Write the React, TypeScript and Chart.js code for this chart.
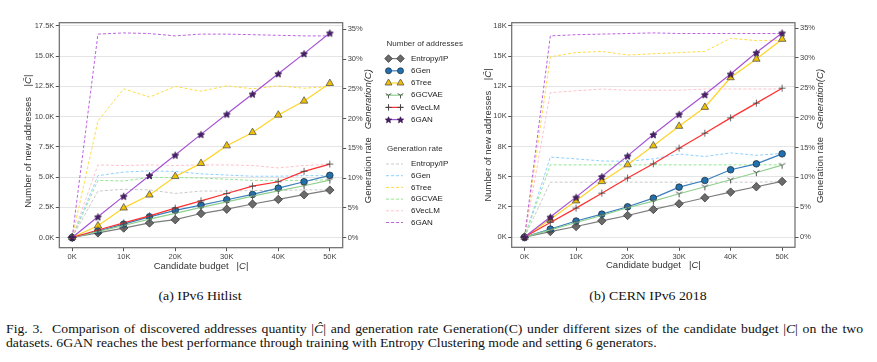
import React, { useEffect, useRef } from "react";
import { Chart, registerables } from "chart.js";
Chart.register(...registerables);

// ---------------- DATA ----------------
const budget = [0, 5000, 10000, 15000, 20000, 25000, 30000, 35000, 40000, 45000, 50000];
const methods = ["Entropy/IP", "6Gen", "6Tree", "6GCVAE", "6VecLM", "6GAN"];

// (a) IPv6 Hitlist — number of new addresses |C^|
const hitEntropyIP = [0, 380, 780, 1200, 1470, 1980, 2340, 2770, 3150, 3540, 3920];
const hit6Gen = [0, 530, 1100, 1710, 2240, 2680, 3120, 3560, 4080, 4610, 5140];
const hit6Tree = [0, 970, 2450, 3520, 5050, 6130, 7590, 8690, 10130, 11290, 12750];
const hit6GCVAE = [0, 480, 990, 1520, 1990, 2490, 2950, 3420, 3860, 4280, 4750];
const hit6VecLM = [0, 620, 1210, 1790, 2430, 3030, 3640, 4250, 4610, 5470, 6070];
const hit6GAN = [0, 1710, 3420, 5130, 6820, 8530, 10210, 11870, 13550, 15210, 16920];
// (a) IPv6 Hitlist — generation rate (%)
const hitRateEntropyIP = [0, 7.8, 8.1, 8.0, 7.4, 7.8, 7.8, 7.9, 7.9, 8.0, 8.0];
const hitRate6Gen = [0, 10.4, 11.0, 11.2, 11.1, 10.7, 10.5, 10.3, 10.3, 10.4, 10.4];
const hitRate6Tree = [0, 19.6, 25.0, 23.6, 25.4, 24.6, 25.5, 25.0, 25.5, 25.1, 25.4];
const hitRate6GCVAE = [0, 9.6, 9.5, 10.1, 10.1, 10.0, 9.8, 9.6, 9.6, 9.6, 9.7];
const hitRate6VecLM = [0, 12.2, 12.1, 12.2, 12.1, 12.2, 12.2, 12.1, 11.7, 12.1, 12.3];
const hitRate6GAN = [0, 34.2, 34.4, 34.3, 33.9, 34.2, 34.2, 34.1, 34.0, 33.9, 33.9];

// (b) CERN IPv6 2018 — number of new addresses
const cernEntropyIP = [0, 460, 880, 1350, 1790, 2290, 2760, 3260, 3730, 4170, 4610];
const cern6Gen = [0, 660, 1330, 1900, 2510, 3230, 4140, 4690, 5580, 6070, 6900];
const cern6Tree = [0, 1480, 3010, 4610, 6000, 7570, 9190, 10760, 13220, 14750, 16400];
const cern6GCVAE = [0, 600, 1210, 1790, 2430, 2980, 3590, 4170, 4750, 5350, 5960];
const cern6VecLM = [0, 1210, 2400, 3640, 4890, 6070, 7370, 8610, 9880, 11100, 12340];
const cern6GAN = [0, 1660, 3310, 5020, 6730, 8500, 10180, 11810, 13520, 15290, 16920];
// (b) CERN IPv6 2018 — generation rate (%)
const cernRateEntropyIP = [0, 9.2, 9.2, 9.2, 9.2, 9.2, 9.2, 9.2, 9.2, 9.2, 9.3];
const cernRate6Gen = [0, 13.4, 13.1, 12.75, 12.7, 13.1, 13.9, 13.5, 14.1, 13.7, 14.0];
const cernRate6Tree = [0, 30.2, 30.9, 31.1, 30.5, 30.7, 30.9, 31.1, 33.3, 32.9, 33.0];
const cernRate6GCVAE = [0, 12.1, 12.1, 12.1, 12.1, 12.1, 12.1, 12.1, 12.1, 12.1, 12.1];
const cernRate6VecLM = [0, 24.2, 24.5, 24.8, 24.6, 24.6, 24.6, 24.8, 24.8, 24.8, 24.8];
const cernRate6GAN = [0, 33.7, 33.9, 34.0, 34.1, 34.2, 34.1, 34.1, 34.1, 34.1, 34.1];

// ticks
const xTickValues = [0, 10000, 20000, 30000, 40000, 50000];
const xTickLabels = ["0K", "10K", "20K", "30K", "40K", "50K"];
const countTickValues = [0, 2500, 5000, 7500, 10000, 12500, 15000, 17500];
const hitCountLabels = ["0.0K", "2.5K", "5.0K", "7.5K", "10.0K", "12.5K", "15.0K", "17.5K"];
const cernCountLabels = ["0K", "2K", "5K", "8K", "10K", "12K", "15K", "18K"];
const rateTickValues = [0, 5, 10, 15, 20, 25, 30, 35];
const rateTickLabels = ["0%", "5%", "10%", "15%", "20%", "25%", "30%", "35%"];

// ---------------- STYLES ----------------
const FONT = "'Liberation Sans', Arial, sans-serif";
const solidStyles = [
  { line: "#7d7d7d", fill: "#6b6b6b", edge: "#3a3a3a", marker: "diamond" },
  { line: "#3b7fbd", fill: "#2170b0", edge: "#263238", marker: "circle" },
  { line: "#ffd427", fill: "#f0c000", edge: "#555555", marker: "triangle" },
  { line: "#8fcf8f", fill: "#555555", edge: "#555555", marker: "tri" },
  { line: "#ff2f2f", fill: "#444444", edge: "#444444", marker: "plus" },
  { line: "#a553d6", fill: "#4d1f72", edge: "#2a1040", marker: "star" },
];
const dashColors = ["#c9c9c9", "#8fd0ff", "#ffdc45", "#93e693", "#ffc2cc", "#bd62e0"];

function makeStar(r: number, fill: string, stroke: string) {
  const s = Math.ceil(r * 2 + 3);
  const c = document.createElement("canvas");
  c.width = s; c.height = s;
  const ctx = c.getContext("2d")!;
  ctx.beginPath();
  for (let i = 0; i < 10; i++) {
    const rad = i % 2 === 0 ? r : r * 0.45;
    const a = -Math.PI / 2 + (i * Math.PI) / 5;
    const px = s / 2 + rad * Math.cos(a);
    const py = s / 2 + 0.5 + rad * Math.sin(a);
    if (i) ctx.lineTo(px, py); else ctx.moveTo(px, py);
  }
  ctx.closePath();
  ctx.fillStyle = fill; ctx.fill();
  ctx.strokeStyle = stroke; ctx.lineWidth = 0.8; ctx.stroke();
  return c;
}
function makeTri(r: number, color: string) {
  const s = Math.ceil(r * 2 + 3);
  const c = document.createElement("canvas");
  c.width = s; c.height = s;
  const ctx = c.getContext("2d")!;
  const cx = s / 2, cy = s / 2;
  ctx.strokeStyle = color; ctx.lineWidth = 1;
  ctx.beginPath();
  ctx.moveTo(cx, cy); ctx.lineTo(cx, cy + r);
  ctx.moveTo(cx, cy); ctx.lineTo(cx + 0.866 * r, cy - 0.5 * r);
  ctx.moveTo(cx, cy); ctx.lineTo(cx - 0.866 * r, cy - 0.5 * r);
  ctx.stroke();
  return c;
}

function pointFor(st: any) {
  switch (st.marker) {
    case "diamond": return { pointStyle: "rectRot", pointRadius: 4.2 };
    case "circle": return { pointStyle: "circle", pointRadius: 3.3 };
    case "triangle": return { pointStyle: "triangle", pointRadius: 4.3 };
    case "plus": return { pointStyle: "cross", pointRadius: 3.5 };
    case "tri": return { pointStyle: makeTri(3.6, st.fill), pointRadius: 4 };
    case "star": return { pointStyle: makeStar(3.6, st.fill, st.edge), pointRadius: 4 };
  }
  return {};
}

// ---------------- PLUGINS ----------------
const framePlugin = {
  id: "frame",
  afterDatasetsDraw(chart: any) {
    const { ctx, chartArea } = chart;
    const { left, top, right, bottom } = chartArea;
    ctx.save();
    ctx.strokeStyle = "#6a6a6a";
    ctx.lineWidth = 1.2;
    ctx.strokeRect(left, top, right - left, bottom - top);
    ctx.restore();
  },
};

function drawRuns(ctx: CanvasRenderingContext2D, x: number, y: number, rot: number, runs: any[], size: number) {
  ctx.save();
  ctx.translate(x, y);
  ctx.rotate(rot);
  ctx.fillStyle = "#333";
  ctx.textBaseline = "middle";
  ctx.textAlign = "left";
  let total = 0;
  const widths = runs.map((r) => {
    ctx.font = `${r.i ? "italic " : ""}${size}px ${FONT}`;
    const w = ctx.measureText(r.t).width;
    total += w;
    return w;
  });
  let cx = -total / 2;
  runs.forEach((r, k) => {
    ctx.font = `${r.i ? "italic " : ""}${size}px ${FONT}`;
    ctx.fillText(r.t, cx, 0);
    cx += widths[k];
  });
  ctx.restore();
}

const titlesPlugin = {
  id: "axisTitles",
  afterDraw(chart: any, _args: any, opts: any) {
    const { ctx, chartArea } = chart;
    const { left, top, right, bottom } = chartArea;
    const midX = (left + right) / 2;
    const midY = (top + bottom) / 2;
    drawRuns(ctx, midX, bottom + opts.bottomOff, 0,
      [{ t: "Candidate budget   |" }, { t: "C", i: true }, { t: "|" }], 9.5);
    drawRuns(ctx, left - opts.leftOff, midY + opts.leftShift, -Math.PI / 2,
      [{ t: "Number of new addresses    |" }, { t: "C\u0302", i: true }, { t: "|" }], 9.5);
    drawRuns(ctx, right + opts.rightOff, midY + 1, -Math.PI / 2,
      [{ t: "Generation rate   " }, { t: "Generation(C)", i: true }], 9.5);
  },
};

// ---------------- CHART ----------------
function buildConfig(p: any) {
  const tickFont = { family: FONT, size: 7.5 };
  const solid = p.counts.map((arr: number[], i: number) => {
    const st = solidStyles[i];
    return {
      label: methods[i],
      data: budget.map((x, k) => ({ x, y: arr[k] })),
      yAxisID: "y",
      borderColor: st.line,
      borderWidth: 1.2,
      pointBackgroundColor: st.fill,
      pointBorderColor: st.edge,
      pointBorderWidth: 0.8,
      ...pointFor(st),
      order: 6 - i,
    };
  });
  const dashed = p.rates.map((arr: number[], i: number) => ({
    label: methods[i] + " rate",
    data: budget.map((x, k) => ({ x, y: arr[k] })),
    yAxisID: "y2",
    borderColor: dashColors[i],
    borderWidth: 1,
    borderDash: [3, 2],
    pointRadius: 0,
    order: 20 - i,
  }));
  return {
    type: "line",
    data: { datasets: [...solid, ...dashed] },
    plugins: [framePlugin, titlesPlugin],
    options: {
      animation: false,
      responsive: false,
      maintainAspectRatio: false,
      layout: { padding: { top: p.padTop, left: 0, right: 0, bottom: 0 } },
      plugins: {
        legend: { display: false },
        tooltip: { enabled: false },
        axisTitles: p.titles,
      },
      scales: {
        x: {
          type: "linear",
          min: -2500,
          max: 52500,
          afterFit: (s: any) => { s.height = p.xH; },
          afterBuildTicks: (s: any) => { s.ticks = xTickValues.map((v) => ({ value: v })); },
          ticks: {
            autoSkip: false, maxRotation: 0, minRotation: 0, padding: 1.5,
            font: tickFont, color: "#444",
            callback: (v: number) => { const k = xTickValues.indexOf(v); return k >= 0 ? xTickLabels[k] : ""; },
          },
          grid: { drawOnChartArea: false, drawTicks: true, tickLength: 3.5, tickColor: "#555", tickWidth: 1 },
          border: { display: false },
        },
        y: {
          type: "linear",
          position: "left",
          min: p.yMin,
          max: p.yMax,
          afterFit: (s: any) => { s.width = p.yW; },
          afterBuildTicks: (s: any) => { s.ticks = countTickValues.map((v) => ({ value: v })); },
          ticks: {
            autoSkip: false, padding: 1.5, font: tickFont, color: "#444",
            callback: (v: number) => { const k = countTickValues.indexOf(v); return k >= 0 ? p.countLabels[k] : ""; },
          },
          grid: { color: "#e4e4e4", lineWidth: 1, drawTicks: true, tickLength: 3.5, tickColor: "#555", tickWidth: 1 },
          border: { display: false },
        },
        y2: {
          type: "linear",
          position: "right",
          min: p.rMin,
          max: p.rMax,
          afterFit: (s: any) => { s.width = p.y2W; },
          afterBuildTicks: (s: any) => { s.ticks = rateTickValues.map((v) => ({ value: v })); },
          ticks: {
            autoSkip: false, padding: 1.5, font: tickFont, color: "#444",
            callback: (v: number) => { const k = rateTickValues.indexOf(v); return k >= 0 ? rateTickLabels[k] : ""; },
          },
          grid: { drawOnChartArea: false, drawTicks: true, tickLength: 3.5, tickColor: "#555", tickWidth: 1 },
          border: { display: false },
        },
      },
    },
  };
}

function LineChart({ p }: { p: any }) {
  const ref = useRef<HTMLCanvasElement | null>(null);
  useEffect(() => {
    const chart = new Chart(ref.current as any, buildConfig(p) as any);
    return () => chart.destroy();
  }, []);
  return (
    <canvas
      ref={ref}
      width={p.w}
      height={280}
      style={{ position: "absolute", left: p.left, top: 0, width: p.w, height: 280 }}
    />
  );
}

// ---------------- LEGEND ----------------
function Marker({ kind, cx, cy, st }: any) {
  if (kind === "diamond") {
    const r = 3.8;
    return <polygon points={`${cx - r},${cy} ${cx},${cy - r} ${cx + r},${cy} ${cx},${cy + r}`} fill={st.fill} stroke={st.edge} strokeWidth={0.8} />;
  }
  if (kind === "circle") return <circle cx={cx} cy={cy} r={3} fill={st.fill} stroke={st.edge} strokeWidth={0.8} />;
  if (kind === "triangle") {
    const r = 4;
    return <polygon points={`${cx},${cy - r} ${cx + 0.866 * r},${cy + 0.5 * r} ${cx - 0.866 * r},${cy + 0.5 * r}`} fill={st.fill} stroke={st.edge} strokeWidth={0.8} />;
  }
  if (kind === "plus") {
    const r = 3.2;
    return <path d={`M${cx - r},${cy}H${cx + r}M${cx},${cy - r}V${cy + r}`} stroke={st.edge} strokeWidth={1} />;
  }
  if (kind === "tri") {
    const r = 3.2;
    return <path d={`M${cx},${cy}V${cy + r}M${cx},${cy}L${cx + 0.866 * r},${cy - 0.5 * r}M${cx},${cy}L${cx - 0.866 * r},${cy - 0.5 * r}`} stroke={st.fill} strokeWidth={1} fill="none" />;
  }
  // star
  const pts: string[] = [];
  for (let i = 0; i < 10; i++) {
    const rad = i % 2 === 0 ? 3.3 : 3.3 * 0.45;
    const a = -Math.PI / 2 + (i * Math.PI) / 5;
    pts.push(`${cx + rad * Math.cos(a)},${cy + 0.5 + rad * Math.sin(a)}`);
  }
  return <polygon points={pts.join(" ")} fill={st.fill} stroke={st.edge} strokeWidth={0.7} />;
}

function Legend() {
  const tStyle: any = { fontFamily: FONT, fontSize: 8, fill: "#222" };
  return (
    <svg width={877} height={280} style={{ position: "absolute", left: 0, top: 0, pointerEvents: "none" }}>
      <text x={386.5} y={44} dominantBaseline="middle" style={{ ...tStyle, fill: "#333" }}>Number of addresses</text>
      {methods.map((m, i) => {
        const y = 58.6 + i * 12.2;
        const st = solidStyles[i];
        return (
          <g key={"s" + m}>
            <line x1={386} x2={403} y1={y} y2={y} stroke={st.line} strokeWidth={1.2} />
            <Marker kind={st.marker} cx={388.5} cy={y} st={st} />
            <Marker kind={st.marker} cx={400.5} cy={y} st={st} />
            <text x={411} y={y} dominantBaseline="middle" style={tStyle}>{m}</text>
          </g>
        );
      })}
      <text x={387} y={149} dominantBaseline="middle" style={{ ...tStyle, fill: "#333" }}>Generation rate</text>
      {methods.map((m, i) => {
        const y = 164 + i * 11.7;
        return (
          <g key={"d" + m}>
            <line x1={386} x2={403} y1={y} y2={y} stroke={dashColors[i]} strokeWidth={1} strokeDasharray="3,2" />
            <text x={411} y={y} dominantBaseline="middle" style={tStyle}>{m}</text>
          </g>
        );
      })}
    </svg>
  );
}

// ---------------- APP ----------------
const hitParams = {
  left: 0, w: 385, padTop: 22.7, xH: 32.3, yW: 59.3, y2W: 42.3,
  yMin: -846, yMax: 17766, rMin: -1.72, rMax: 36.12,
  countLabels: hitCountLabels,
  counts: [hitEntropyIP, hit6Gen, hit6Tree, hit6GCVAE, hit6VecLM, hit6GAN],
  rates: [hitRateEntropyIP, hitRate6Gen, hitRate6Tree, hitRate6GCVAE, hitRate6VecLM, hitRate6GAN],
  titles: { bottomOff: 18.3, leftOff: 31, leftShift: 6, rightOff: 26 },
};
const cernParams = {
  left: 460, w: 400, padTop: 22.7, xH: 32.7, yW: 51.7, y2W: 65,
  yMin: -846, yMax: 17766, rMin: -1.71, rMax: 35.91,
  countLabels: cernCountLabels,
  counts: [cernEntropyIP, cern6Gen, cern6Tree, cern6GCVAE, cern6VecLM, cern6GAN],
  rates: [cernRateEntropyIP, cernRate6Gen, cernRate6Tree, cernRate6GCVAE, cernRate6VecLM, cernRate6GAN],
  titles: { bottomOff: 18.3, leftOff: 23.4, leftShift: 0, rightOff: 25.7 },
};

export default function App() {
  const serif = "'Liberation Serif', 'Times New Roman', serif";
  const sx = 1.057;
  return (
    <div style={{ position: "absolute", left: 0, top: 0, width: 877, height: 362, background: "#fff", overflow: "hidden" }}>
      <LineChart p={hitParams} />
      <LineChart p={cernParams} />
      <Legend />
      <div style={{ position: "absolute", left: 100, width: 200, top: 288, textAlign: "center", fontFamily: serif, fontSize: 13, lineHeight: "16px", color: "#111", transform: "scaleX(1.065)", transformOrigin: "center" }}>
        (a) IPv6 Hitlist
      </div>
      <div style={{ position: "absolute", left: 548, width: 200, top: 288, textAlign: "center", fontFamily: serif, fontSize: 13, lineHeight: "16px", color: "#111", transform: "scaleX(1.065)", transformOrigin: "center" }}>
        (b) CERN IPv6 2018
      </div>
      <div style={{ position: "absolute", left: 6, width: 857 / sx, top: 321, fontFamily: serif, fontSize: 13, lineHeight: "15px", color: "#111", textAlign: "justify", textAlignLast: "justify" as any, whiteSpace: "nowrap", transform: `scaleX(${sx})`, transformOrigin: "left" }}>
        Fig. 3.&nbsp; Comparison of discovered addresses quantity |<i>C&#770;</i>| and generation rate Generation(C) under different sizes of the candidate budget |<i>C</i>| on the two
      </div>
      <div style={{ position: "absolute", left: 6, top: 335, fontFamily: serif, fontSize: 13, lineHeight: "15px", color: "#111", whiteSpace: "nowrap", transform: `scaleX(${sx})`, transformOrigin: "left" }}>
        datasets. 6GAN reaches the best performance through training with Entropy Clustering mode and setting 6 generators.
      </div>
    </div>
  );
}
